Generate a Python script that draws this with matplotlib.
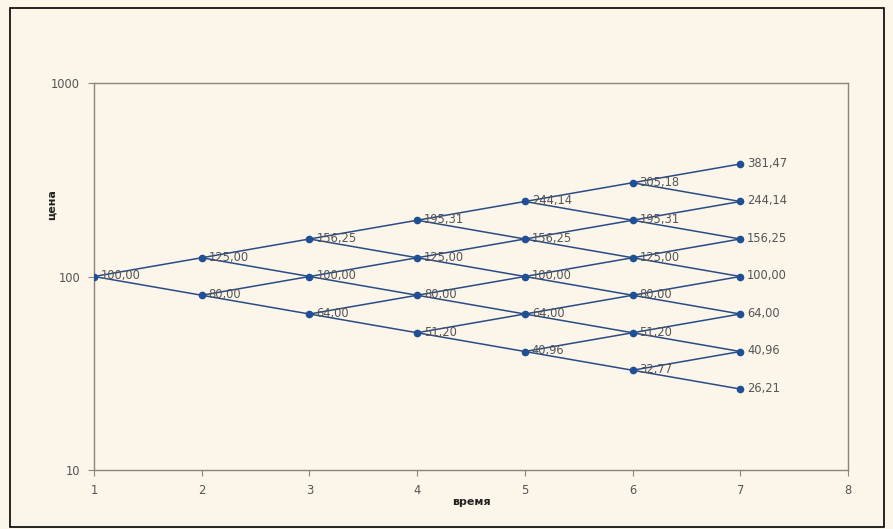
import matplotlib

matplotlib.use("Agg")
import matplotlib.pyplot as plt  # noqa: E402
from matplotlib.patches import Rectangle  # noqa: E402

plt.rcParams["font.family"] = ["DejaVu Sans"]

# binomial price tree, one list per time step (top node first)
steps = [1, 2, 3, 4, 5, 6, 7]
level_1 = [100.00]
level_2 = [125.00, 80.00]
level_3 = [156.25, 100.00, 64.00]
level_4 = [195.31, 125.00, 80.00, 51.20]
level_5 = [244.14, 156.25, 100.00, 64.00, 40.96]
level_6 = [305.18, 195.31, 125.00, 80.00, 51.20, 32.77]
level_7 = [381.47, 244.14, 156.25, 100.00, 64.00, 40.96, 26.21]
levels = [level_1, level_2, level_3, level_4, level_5, level_6, level_7]

BG = "#fcf5ea"
LINE = "#2a4c84"
MARK = "#1f4f94"
FRAME = "#8c8478"
TEXT = "#555555"

fig = plt.figure(figsize=(8.93, 5.29), dpi=100, facecolor=BG)
fig.patches.append(Rectangle((10 / 893, 2 / 529), 874 / 893, 519 / 529, transform=fig.transFigure,
                             fill=False, edgecolor="black", linewidth=1.2))
ax = fig.add_axes([94 / 893, 1 - 470 / 529, 754 / 893, 387 / 529])
ax.set_facecolor(BG)

# each node links to the up and down node of the next step
for i in range(len(levels) - 1):
    for j, v in enumerate(levels[i]):
        nxt = levels[i + 1]
        ax.plot([steps[i], steps[i + 1]], [v, nxt[j]], color=LINE, lw=1.1, zorder=2)
        ax.plot([steps[i], steps[i + 1]], [v, nxt[j + 1]], color=LINE, lw=1.1, zorder=2)

for t, vals in zip(steps, levels):
    ax.plot([t] * len(vals), vals, "o", color=MARK, markersize=4.5, zorder=3)
    for v in vals:
        ax.annotate(f"{v:.2f}".replace(".", ","), (t, v), xytext=(5, 0.5), textcoords="offset points",
                    va="center", ha="left", fontsize=8.3, color=TEXT, zorder=4)

ax.set_yscale("log")
ax.set_ylim(10, 1000)
ax.set_xlim(1, 8)
ax.set_xticks(range(1, 9))
ax.set_yticks([10, 100, 1000])
ax.set_yticklabels(["10", "100", "1000"])
ax.minorticks_off()
ax.tick_params(colors=FRAME, labelcolor=TEXT, labelsize=8.3, length=4, pad=6)
for s in ax.spines.values():
    s.set_color(FRAME)
    s.set_linewidth(1.0)

ax.set_xlabel("время", fontsize=8, fontweight="bold", color="#222222", labelpad=0)
ax.set_ylabel("цена", fontsize=8, fontweight="bold", color="#222222")
ax.yaxis.set_label_coords(-0.049, 0.685)

fig.savefig("out.png", facecolor=BG)
